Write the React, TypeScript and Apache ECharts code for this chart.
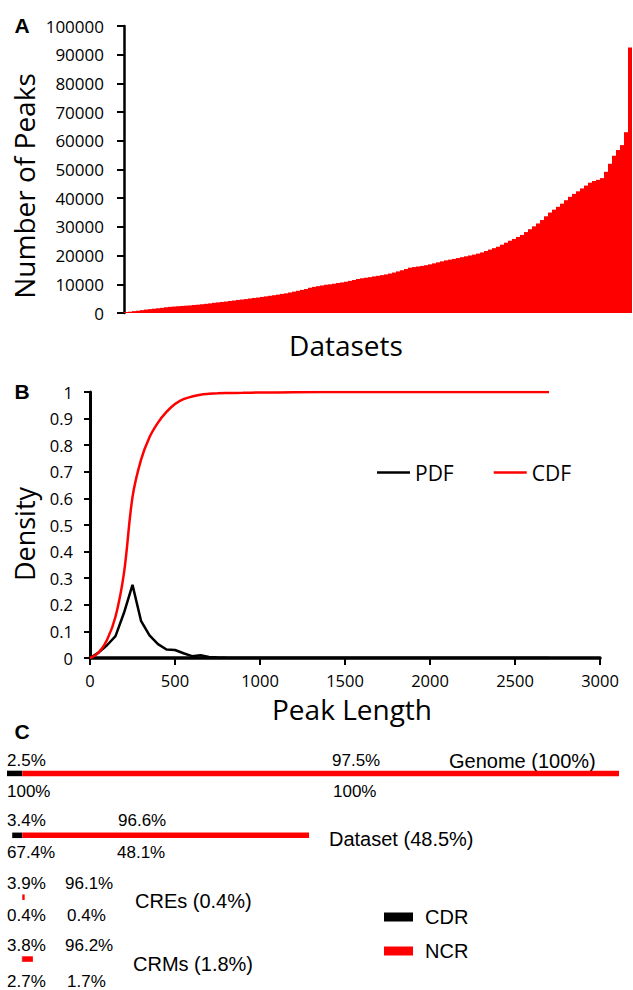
import React, { useEffect, useRef } from "react";
import * as echarts from "echarts";

// ---------- Panel A: number of peaks per dataset (sorted) ----------
const datasetPeaks = [
  350, 450, 650, 800, 1000, 1200, 1350, 1500, 1650, 1800,
  2000, 2150, 2250, 2350, 2450, 2550, 2650, 2800, 2900, 3050,
  3200, 3350, 3550, 3700, 3850, 4000, 4200, 4350, 4550, 4700,
  4850, 5050, 5250, 5400, 5600, 5800, 6000, 6200, 6400, 6650,
  6850, 7150, 7450, 7750, 8050, 8350, 8800, 9100, 9350, 9600,
  9850, 10000, 10200, 10450, 10650, 10900, 11200, 11500, 11850, 12100,
  12300, 12500, 12750, 12950, 13200, 13450, 13750, 14100, 14500, 14900,
  15350, 15800, 16000, 16200, 16400, 16650, 16950, 17300, 17650, 18000,
  18350, 18600, 18850, 19150, 19450, 19750, 20050, 20350, 20700, 21100,
  21600, 22100, 22600, 23100, 23800, 24500, 25200, 25800, 26500, 27200,
  28200, 29200, 30200, 31200, 32400, 33700, 35000, 36000, 37000, 38100,
  39300, 40500, 41500, 42400, 43400, 44400, 45400, 46000, 46400, 47000,
  49200, 52000, 54800, 56800, 58500, 63000, 92500,
];
const datasetIds = datasetPeaks.map((_, i) => `DS${i + 1}`);

// ---------- Panel B: peak length distribution ----------
const peakLengths = [
  0, 50, 100, 150, 200, 250, 300, 350, 400, 450, 500, 550, 600, 650, 700,
  750, 800, 900, 1000, 1200, 1500, 2000, 2500, 2700,
];
const pdfValues = [
  0, 0.02, 0.048, 0.082, 0.17, 0.275, 0.14, 0.085, 0.052, 0.032, 0.03, 0.018,
  0.007, 0.01, 0.004, 0.002, 0.001, 0, 0, 0, 0, 0, 0, 0,
];
const cdfValues = [
  0, 0.02, 0.068, 0.155, 0.32, 0.605, 0.745, 0.83, 0.885, 0.925, 0.955, 0.973,
  0.983, 0.99, 0.993, 0.995, 0.996, 0.997, 0.998, 0.999, 1, 1, 1, 1,
];

// ---------- Panel C: CDR / NCR composition ----------
const regionNames = ["Genome (100%)", "Dataset (48.5%)", "CREs (0.4%)", "CRMs (1.8%)"];
const regionShare = [100, 48.5, 0.4, 1.8];
const cdrPct = [2.5, 3.4, 3.9, 3.8];
const ncrPct = [97.5, 96.6, 96.1, 96.2];
const cdrCoverage = [100, 67.4, 0.4, 2.7];
const ncrCoverage = [100, 48.1, 0.4, 1.7];

// layout for panel C labels (pixels)
const rowY = [774, 837, 900, 963];
const topDy = [-14, -17, -17, -18];
const bottomDy = [17, 15, 15, 18];
const rightTopX = [332, 118, 65, 65];
const rightBottomX = [333, 117, 67, 67];
const nameX = [449, 329, 135, 133];
const nameDy = [-13, 2, 1, 1];

const SANS = "Open Sans";
const ARIAL = "Liberation Sans";

function pct(v: number) {
  return `${v}%`;
}
function plain(v: number) {
  return String(Math.round(v * 1000) / 1000);
}

export default function App() {
  const ref = useRef<HTMLDivElement>(null);

  useEffect(() => {
    if (!ref.current) return;
    const chart = echarts.init(ref.current, undefined, { renderer: "svg" });

    const cLabels: any[] = [];
    regionNames.forEach((name, i) => {
      const y = rowY[i];
      const base = { fontFamily: ARIAL, fontSize: 17, fill: "#000", verticalAlign: "middle", align: "left" };
      cLabels.push({ type: "text", x: 7, y: y + topDy[i], style: { ...base, text: pct(cdrPct[i]) } });
      cLabels.push({ type: "text", x: rightTopX[i], y: y + topDy[i], style: { ...base, text: pct(ncrPct[i]) } });
      cLabels.push({ type: "text", x: 7, y: y + bottomDy[i], style: { ...base, text: pct(cdrCoverage[i]) } });
      cLabels.push({ type: "text", x: rightBottomX[i], y: y + bottomDy[i], style: { ...base, text: pct(ncrCoverage[i]) } });
      cLabels.push({ type: "text", x: nameX[i], y: y + nameDy[i], style: { ...base, fontSize: 20, text: name } });
    });

    const option: any = {
      animation: false,
      backgroundColor: "#fff",
      grid: [
        { left: 124, top: 26, width: 508, height: 287 },
        { left: 90, top: 392, width: 510, height: 266 },
        { left: 7, top: 742.5, width: 612, height: 252 },
      ],
      xAxis: [
        {
          type: "category",
          gridIndex: 0,
          data: datasetIds,
          axisLine: { show: false },
          axisTick: { show: false },
          axisLabel: { show: false },
        },
        {
          type: "value",
          gridIndex: 1,
          min: 0,
          max: 3000,
          interval: 500,
          splitLine: { show: false },
          axisLine: { show: true, lineStyle: { color: "#000", width: 3.5 } },
          axisTick: { show: true, length: 7, lineStyle: { color: "#000", width: 2 } },
          axisLabel: { margin: 14, fontFamily: SANS, fontSize: 16.5, color: "#000", formatter: plain },
        },
        {
          type: "value",
          gridIndex: 2,
          min: -2.5,
          max: 97.5,
          show: false,
        },
      ],
      yAxis: [
        {
          type: "value",
          gridIndex: 0,
          min: 0,
          max: 100000,
          interval: 10000,
          splitLine: { show: false },
          axisLine: { show: true, lineStyle: { color: "#000", width: 2.5 } },
          axisTick: { show: true, length: 7, lineStyle: { color: "#000", width: 2 } },
          axisLabel: { margin: 20, fontFamily: SANS, fontSize: 17, color: "#000", formatter: plain },
        },
        {
          type: "value",
          gridIndex: 1,
          min: 0,
          max: 1,
          interval: 0.1,
          splitLine: { show: false },
          axisLine: { show: true, lineStyle: { color: "#000", width: 3 } },
          axisTick: { show: true, length: 6, lineStyle: { color: "#000", width: 2 } },
          axisLabel: { margin: 17, fontFamily: SANS, fontSize: 16.5, color: "#000", formatter: plain },
        },
        {
          type: "category",
          gridIndex: 2,
          data: regionNames,
          inverse: true,
          show: false,
        },
      ],
      legend: [
        {
          data: ["PDF", "CDF"],
          left: 377,
          top: 462,
          padding: 0,
          icon: "rect",
          itemWidth: 33,
          itemHeight: 2.5,
          itemGap: 40,
          textStyle: { fontFamily: SANS, fontSize: 21, color: "#000" },
        },
        {
          data: ["CDR", "NCR"],
          left: 384,
          top: 907,
          padding: 0,
          orient: "vertical",
          icon: "rect",
          itemWidth: 29,
          itemHeight: 9,
          itemGap: 14,
          textStyle: { fontFamily: ARIAL, fontSize: 20, color: "#000", padding: [0, 0, 0, 7] },
        },
      ],
      series: [
        {
          name: "Peaks",
          type: "bar",
          xAxisIndex: 0,
          yAxisIndex: 0,
          data: datasetPeaks,
          barCategoryGap: "0%",
          itemStyle: { color: "#ff0000" },
        },
        {
          name: "PDF",
          type: "line",
          xAxisIndex: 1,
          yAxisIndex: 1,
          data: peakLengths.map((x, i) => [x, pdfValues[i]]),
          showSymbol: false,
          symbol: "none",
          smooth: false,
          color: "#000",
          lineStyle: { color: "#000", width: 2.5 },
          itemStyle: { color: "#000" },
          z: 3,
        },
        {
          name: "CDF",
          type: "line",
          xAxisIndex: 1,
          yAxisIndex: 1,
          data: peakLengths.map((x, i) => [x, cdfValues[i]]),
          showSymbol: false,
          symbol: "none",
          smooth: 0.35,
          color: "#ff0000",
          lineStyle: { color: "#ff0000", width: 2.5 },
          itemStyle: { color: "#ff0000" },
          z: 4,
        },
        {
          name: "CDR",
          type: "bar",
          xAxisIndex: 2,
          yAxisIndex: 2,
          stack: "comp",
          barWidth: 5.5,
          data: regionShare.map((s, i) => -(s * cdrPct[i]) / 100),
          itemStyle: { color: "#000" },
        },
        {
          name: "NCR",
          type: "bar",
          xAxisIndex: 2,
          yAxisIndex: 2,
          stack: "comp",
          barWidth: 5.5,
          data: regionShare.map((s, i) => (s * ncrPct[i]) / 100),
          itemStyle: { color: "#ff0000" },
        },
      ],
      graphic: [
        { type: "text", x: 22, y: 25, style: { text: "A", fontFamily: ARIAL, fontWeight: "bold", fontSize: 21, fill: "#000", align: "center", verticalAlign: "middle" } },
        { type: "text", x: 22, y: 391, style: { text: "B", fontFamily: ARIAL, fontWeight: "bold", fontSize: 21, fill: "#000", align: "center", verticalAlign: "middle" } },
        { type: "text", x: 22, y: 731, style: { text: "C", fontFamily: ARIAL, fontWeight: "bold", fontSize: 21, fill: "#000", align: "center", verticalAlign: "middle" } },
        { type: "text", x: 24, y: 186, rotation: Math.PI / 2, style: { text: "Number of Peaks", fontFamily: SANS, fontSize: 28, lineHeight: 28, fill: "#000", align: "center", verticalAlign: "middle" } },
        { type: "text", x: 346, y: 345, style: { text: "Datasets", fontFamily: SANS, fontSize: 28, lineHeight: 28, fill: "#000", align: "center", verticalAlign: "middle" } },
        { type: "text", x: 24, y: 534, rotation: Math.PI / 2, style: { text: "Density", fontFamily: SANS, fontSize: 27, lineHeight: 27, fill: "#000", align: "center", verticalAlign: "middle" } },
        { type: "text", x: 352, y: 709, style: { text: "Peak Length", fontFamily: SANS, fontSize: 28, lineHeight: 26, fill: "#000", align: "center", verticalAlign: "middle" } },
        ...cLabels,
      ],
    };

    chart.setOption(option);
    return () => chart.dispose();
  }, []);

  return (
    <div
      ref={ref}
      style={{ position: "absolute", left: 0, top: 0, width: 633, height: 990, background: "#fff" }}
    />
  );
}
